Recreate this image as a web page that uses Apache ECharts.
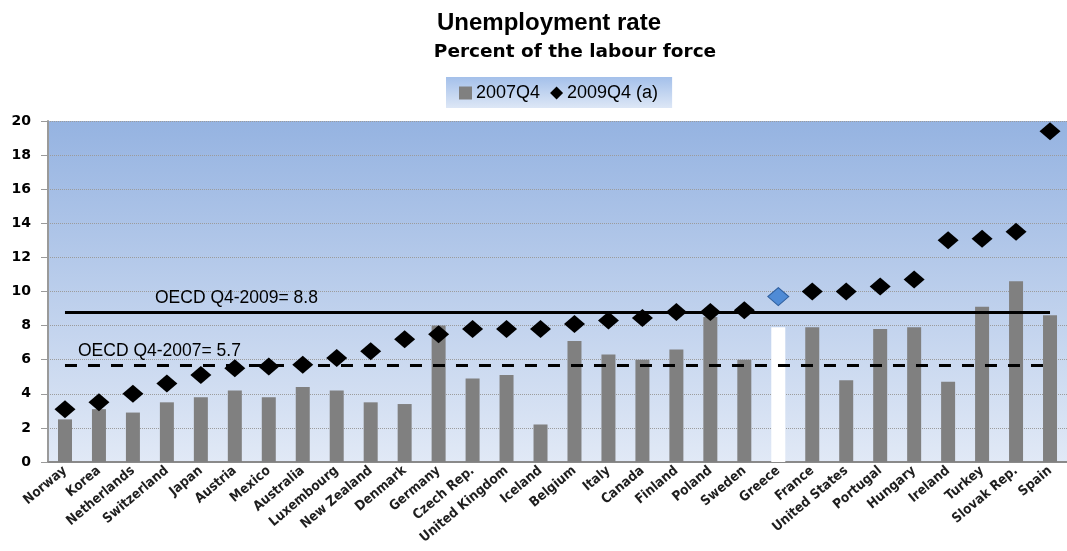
<!DOCTYPE html>
<html>
<head>
<meta charset="utf-8">
<script src="https://cdn.jsdelivr.net/npm/echarts@6/dist/echarts.min.js"></script>
<style>
  html, body { margin: 0; padding: 0; background: #fff; }
  #chart { width: 1067px; height: 551px; }
</style>
</head>
<body>
<div id="chart"></div>
<script>
var countries = ['Norway', 'Korea', 'Netherlands', 'Switzerland', 'Japan', 'Austria', 'Mexico', 'Australia',
    'Luxembourg', 'New Zealand', 'Denmark', 'Germany', 'Czech Rep.', 'United Kingdom', 'Iceland', 'Belgium',
    'Italy', 'Canada', 'Finland', 'Poland', 'Sweden', 'Greece', 'France', 'United States', 'Portugal',
    'Hungary', 'Ireland', 'Turkey', 'Slovak Rep.', 'Spain'];
var rate2007 = [2.5, 3.1, 2.9, 3.5, 3.8, 4.2, 3.8, 4.4, 4.2, 3.5, 3.4, 8.0, 4.9, 5.1, 2.2, 7.1,
    6.3, 6.0, 6.6, 8.5, 6.0, 7.9, 7.9, 4.8, 7.8, 7.9, 4.7, 9.1, 10.6, 8.6];
var rate2009 = [3.1, 3.5, 4.0, 4.6, 5.1, 5.5, 5.6, 5.7, 6.1, 6.5, 7.2, 7.5, 7.8, 7.8, 7.8, 8.1,
    8.3, 8.45, 8.8, 8.8, 8.9, 9.7, 10.0, 10.0, 10.3, 10.7, 13.0, 13.1, 13.5, 19.4];
var oecd2009 = 8.8;
var oecd2007 = 5.7;
var yTicks = [0, 2, 4, 6, 8, 10, 12, 14, 16, 18, 20];

var chart = echarts.init(document.getElementById('chart'));

// Greece is highlighted: white bar, blue diamond
var barData = rate2007.map(function (v, i) {
    if (countries[i] === 'Greece') return { value: v, itemStyle: { color: '#ffffff' } };
    return v;
});
var dotData = rate2009.map(function (v, i) {
    if (countries[i] === 'Greece') return { value: v, itemStyle: { color: '#4f8bd6', borderColor: '#2f5f9e', borderWidth: 1 } };
    return v;
});

var option = {
    animation: false,
    title: [{
        text: 'Unemployment rate',
        left: 544, top: 6, textAlign: 'center',
        textStyle: { fontFamily: 'Liberation Sans', fontWeight: 'bold', fontSize: 24, color: '#000' }
    }, {
        text: 'Percent of the labour force',
        left: 570, top: 38, textAlign: 'center',
        textStyle: { fontFamily: 'DejaVu Sans', fontWeight: 'bold', fontSize: 18.5, color: '#000' }
    }],
    legend: {
        left: 446, top: 77,
        padding: [7, 14, 6, 13],
        itemGap: 10,
        itemWidth: 13, itemHeight: 13,
        backgroundColor: new echarts.graphic.LinearGradient(0, 0, 0, 1, [
            { offset: 0, color: '#a4c0ea' }, { offset: 1, color: '#dde7f6' }
        ]),
        textStyle: { fontFamily: 'Liberation Sans', fontSize: 18, color: '#000', padding: [0, 0, 0, -1] },
        data: [
            { name: '2007Q4', icon: 'rect', itemStyle: { color: '#808080' } },
            { name: '2009Q4 (a)', icon: 'diamond', itemStyle: { color: '#000' } }
        ]
    },
    grid: {
        left: 48, right: -6, top: 121, bottom: 89,
        show: true, borderWidth: 0,
        backgroundColor: new echarts.graphic.LinearGradient(0, 0, 0, 1, [
            { offset: 0, color: '#95b3e1' }, { offset: 1, color: '#e1e9f6' }
        ])
    },
    xAxis: {
        type: 'category',
        data: countries,
        axisLine: { lineStyle: { color: '#8a8a8a', width: 2 } },
        axisTick: { show: false },
        axisLabel: {
            interval: 0, rotate: 40, margin: 7,
            fontFamily: 'DejaVu Sans Condensed', fontWeight: 'bold', fontSize: 13.5, color: '#1e1e1e'
        }
    },
    yAxis: {
        type: 'value',
        min: yTicks[0], max: yTicks[yTicks.length - 1], interval: 2,
        axisLine: { show: true, lineStyle: { color: '#9a9a9a', width: 2 } },
        axisTick: { show: true, length: 7, lineStyle: { color: '#9a9a9a' } },
        axisLabel: {
            margin: 17,
            fontFamily: 'DejaVu Sans', fontWeight: 'bold', fontSize: 14, color: '#000'
        },
        splitLine: { lineStyle: { color: '#9c9c9c', type: 'dotted', width: 1 } }
    },
    series: [{
        name: '2007Q4',
        type: 'bar',
        data: barData,
        barWidth: 14,
        itemStyle: { color: '#808080' },
        markLine: {
            silent: true,
            symbol: 'none',
            label: { show: false },
            data: [
                [{ coord: [0, oecd2009], lineStyle: { type: 'solid', color: '#000', width: 3 } }, { coord: [29, oecd2009] }],
                [{ coord: [0, oecd2007], lineStyle: { type: [12, 11], color: '#000', width: 3 } }, { coord: [29, oecd2007] }]
            ]
        }
    }, {
        name: '2009Q4 (a)',
        type: 'scatter',
        data: dotData,
        symbol: 'diamond',
        symbolSize: [21, 18],
        itemStyle: { color: '#000', opacity: 1 },
        z: 5
    }]
};
chart.setOption(option);

// reference line captions
var p9 = chart.convertToPixel({ xAxisIndex: 0, yAxisIndex: 0 }, [0, oecd2009]);
var p7 = chart.convertToPixel({ xAxisIndex: 0, yAxisIndex: 0 }, [0, oecd2007]);
chart.setOption({
    graphic: [{
        type: 'text', left: p9[0] + 90, top: p9[1] - 23,
        style: { text: 'OECD Q4-2009= ' + oecd2009, font: '17.5px "Liberation Sans", Arial', fill: '#000' }
    }, {
        type: 'text', left: p7[0] + 13, top: p7[1] - 23,
        style: { text: 'OECD Q4-2007= ' + oecd2007, font: '17.5px "Liberation Sans", Arial', fill: '#000' }
    }]
});
</script>
</body>
</html>
